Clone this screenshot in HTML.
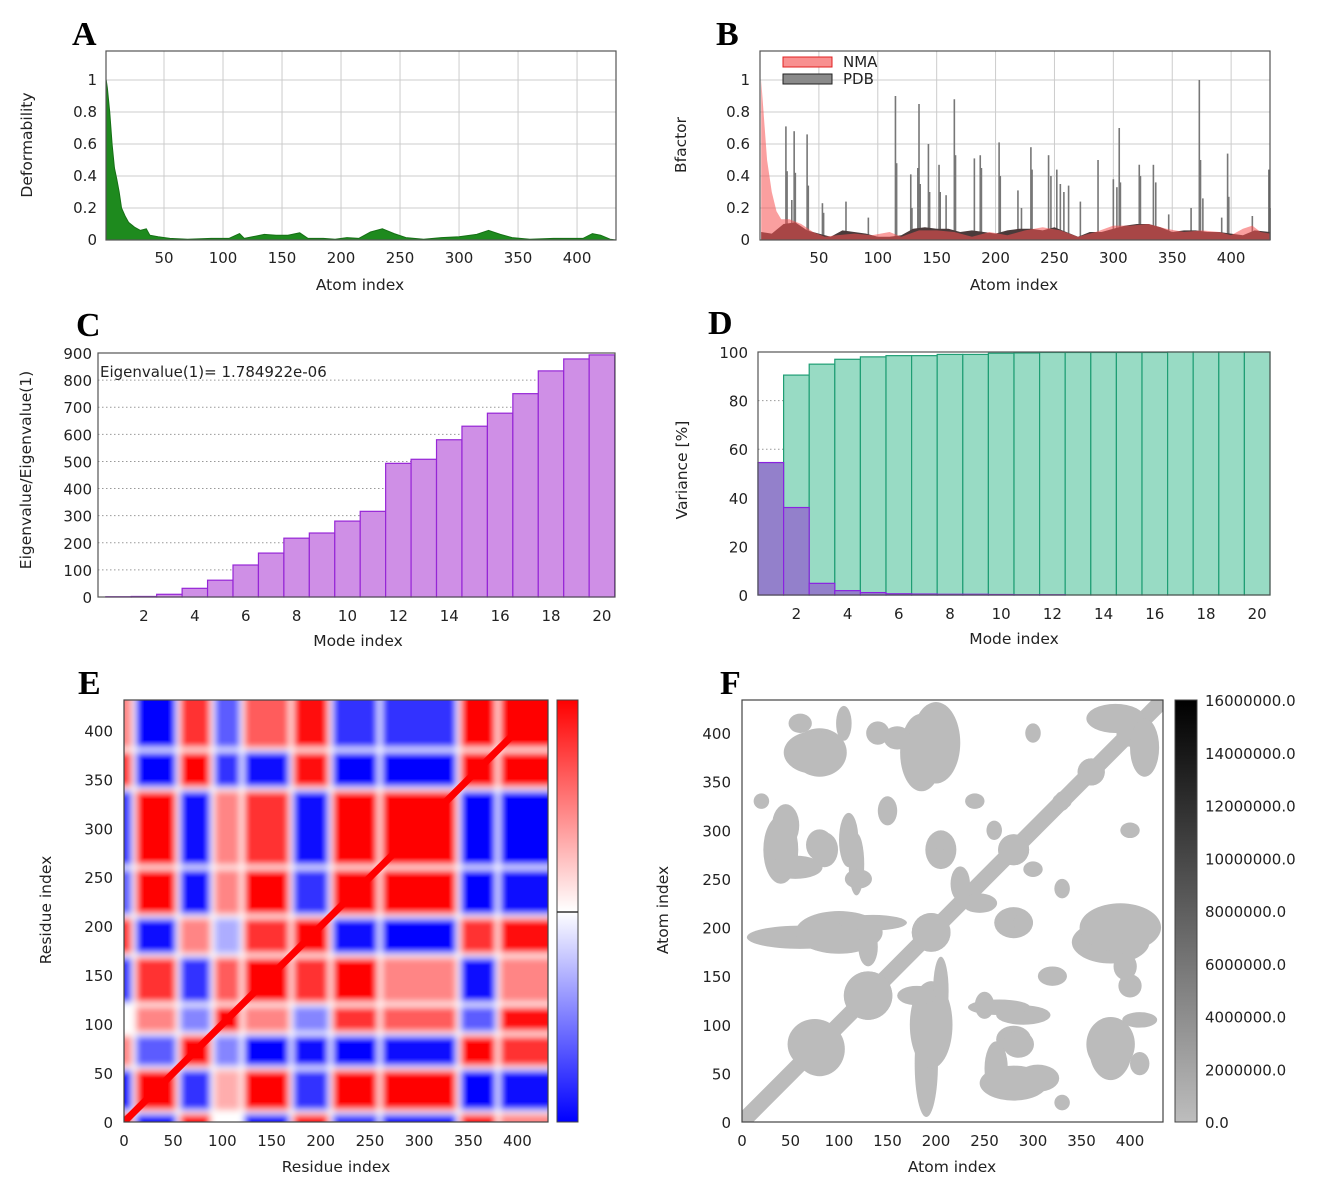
<!DOCTYPE html>
<html><head><meta charset="utf-8"><style>
body{margin:0;background:#fff}
svg{display:block}
text{font-family:"DejaVu Sans","Liberation Sans",sans-serif;fill:#222}
.lab{font-family:"Liberation Serif",serif;font-weight:bold;font-size:34px;fill:#000}
.tk{font-size:15px}
.ti{font-size:15.5px}
</style></head><body>
<svg id="fig" width="1325" height="1189" viewBox="0 0 1325 1189" xmlns="http://www.w3.org/2000/svg">
<defs>
<filter id="blurE" x="0" y="0" width="1" height="1"><feGaussianBlur stdDeviation="3.5"/></filter>
<clipPath id="clipE"><rect x="124" y="700" width="424" height="422"/></clipPath>
<clipPath id="clipF"><rect x="742" y="700" width="421" height="422"/></clipPath>
<linearGradient id="gE" x1="0" y1="1" x2="0" y2="0"><stop offset="0" stop-color="#0000ff"/><stop offset="0.5" stop-color="#ffffff"/><stop offset="1" stop-color="#ff0000"/></linearGradient>
<linearGradient id="gF" x1="0" y1="1" x2="0" y2="0"><stop offset="0" stop-color="#bdbdbd"/><stop offset="1" stop-color="#000"/></linearGradient>
</defs>
<text class="lab" x="72" y="45">A</text>
<text class="lab" x="716" y="45">B</text>
<text class="lab" x="76" y="336">C</text>
<text class="lab" x="708" y="334">D</text>
<text class="lab" x="78" y="694">E</text>
<text class="lab" x="720" y="694">F</text>
<g id="root"></g>
</svg>
<script>
// ---- Panel A data ----
const aX=[1,2,4,6,8,10,12,14,17,20,25,30,35,38,45,55,70,90,105,114,118,125,135,145,155,165,172,185,195,205,215,225,235,245,255,270,285,300,315,325,335,345,360,380,395,405,413,420,428,433];
const aY=[1.0,0.95,0.8,0.6,0.45,0.38,0.3,0.2,0.15,0.11,0.08,0.06,0.07,0.03,0.02,0.01,0.005,0.01,0.01,0.04,0.01,0.02,0.035,0.03,0.03,0.045,0.01,0.01,0.005,0.015,0.01,0.05,0.07,0.04,0.015,0.005,0.015,0.02,0.035,0.06,0.035,0.015,0.005,0.01,0.01,0.01,0.04,0.03,0.005,0];
const atomTicks=[50,100,150,200,250,300,350,400];
const unitTicks=[0,0.2,0.4,0.6,0.8,1];
// ---- Panel B data ----
const nmaX=[1,3,6,10,14,18,25,35,45,55,65,80,95,110,120,135,150,165,180,195,210,225,240,255,270,285,300,315,330,345,360,375,390,400,410,418,425,433];
const nmaY=[1.0,0.8,0.5,0.3,0.18,0.13,0.13,0.1,0.05,0.02,0.03,0.04,0.03,0.05,0.02,0.06,0.06,0.05,0.02,0.05,0.03,0.06,0.08,0.06,0.02,0.05,0.09,0.09,0.1,0.07,0.05,0.06,0.05,0.03,0.07,0.09,0.05,0.04];
const pdbBaseX=[1,10,20,30,40,50,60,70,80,90,100,110,120,130,140,150,160,170,180,190,200,210,220,230,240,250,260,270,280,290,300,310,320,330,340,350,360,370,380,390,400,410,420,433];
const pdbBaseY=[0.05,0.04,0.1,0.11,0.06,0.04,0.02,0.06,0.05,0.04,0.02,0.02,0.03,0.07,0.08,0.07,0.07,0.05,0.06,0.05,0.04,0.06,0.07,0.07,0.06,0.08,0.05,0.02,0.05,0.05,0.07,0.09,0.1,0.1,0.08,0.05,0.06,0.06,0.05,0.05,0.04,0.03,0.06,0.05];
const spikeX=[22,23,27,29,30,40,41,53,54,73,92,115,116,128,129,134,135,136,143,144,152,153,158,165,166,182,187,188,203,204,219,222,230,231,245,247,252,255,258,262,272,287,300,303,305,306,322,323,334,336,347,366,373,374,376,392,397,398,418,432,433];
const spikeY=[0.71,0.43,0.25,0.68,0.42,0.66,0.34,0.23,0.17,0.24,0.14,0.9,0.48,0.41,0.2,0.45,0.85,0.35,0.6,0.3,0.47,0.3,0.28,0.88,0.53,0.51,0.53,0.45,0.61,0.4,0.31,0.2,0.58,0.44,0.53,0.4,0.44,0.35,0.3,0.34,0.24,0.5,0.38,0.33,0.7,0.36,0.47,0.4,0.47,0.36,0.16,0.2,1.0,0.5,0.26,0.14,0.54,0.27,0.15,0.44,0.2];
// ---- Panel C data ----
const modes=[1,2,3,4,5,6,7,8,9,10,11,12,13,14,15,16,17,18,19,20];
const eigRatio=[1,2,10,32,62,118,162,217,236,280,316,493,508,580,630,678,750,834,878,893];
const eigTicks=[0,100,200,300,400,500,600,700,800,900];
const modeTicks=[2,4,6,8,10,12,14,16,18,20];
// ---- Panel D data ----
const varInd=[54.5,36,4.8,1.8,1.0,0.5,0.4,0.3,0.3,0.2,0.1,0.1,0,0,0,0,0,0,0,0];
const varCum=[54.5,90.5,95,97,98,98.5,98.5,99,99,99.5,99.6,99.8,99.8,99.8,99.8,99.8,100,100,100,100];
const varTicks=[0,20,40,60,80,100];
// ---- Panel E data (segment correlation matrix) ----
const segB=[0,10,55,90,120,170,210,260,340,380,431];
const corr=[
[1,-0.7,0.7,0,-0.7,0.6,-0.5,-0.6,0.6,0.3],
[-0.7,1,-0.5,0.2,0.8,-0.5,0.8,0.9,-0.7,-0.6],
[0.3,-0.4,1,-0.3,-0.7,-0.6,-0.7,-0.6,0.8,0.5],
[0,0.3,-0.3,1,0.3,-0.3,0.5,0.4,-0.4,0.6],
[-0.5,0.5,-0.5,0.4,1,0.5,0.7,0.3,-0.6,0.3],
[0.5,-0.6,0.3,-0.2,0.5,1,-0.6,-0.7,0.5,0.6],
[-0.4,0.8,-0.6,0.3,0.7,-0.5,1,0.8,-0.7,-0.6],
[-0.5,0.9,-0.6,0.3,0.5,-0.6,0.8,1,-0.7,-0.7],
[0.5,-0.7,0.7,-0.5,-0.6,0.6,-0.7,-0.7,1,0.7],
[0.3,-0.7,0.5,-0.4,0.4,0.6,-0.5,-0.5,0.7,1]];
const resTicks=[0,50,100,150,200,250,300,350,400];
// ---- Panel F data (contact blobs: cx, cy, rx, ry in atom units) ----
const blobCX=[75,130,195,280,360,400,385,60,195,40,80,185,105,290,280,305,262,380,390,205,205,80,118,290,225,400,150,330,160,300,130,330,410,20,260,250];
const blobCY=[80,130,195,280,360,400,415,190,100,280,380,380,410,110,85,45,55,75,200,280,135,285,265,205,245,140,320,330,395,400,180,240,60,330,300,120];
const blobRX=[28,25,20,16,14,14,30,55,22,18,28,22,8,28,18,22,12,22,42,16,8,14,8,10,10,12,10,8,14,8,10,8,10,8,8,10];
const blobRY=[26,25,20,16,14,14,15,12,45,35,25,40,18,10,14,14,28,32,25,20,35,16,32,10,18,12,15,10,12,10,20,10,12,8,10,14];
const fTicks=[0,50,100,150,200,250,300,350,400];
const cbVals=[0,2000000,4000000,6000000,8000000,10000000,12000000,14000000,16000000];

const NS="http://www.w3.org/2000/svg";
const root=document.getElementById('root');
function mk(tag,attrs,parent){const e=document.createElementNS(NS,tag);for(const k in attrs)e.setAttribute(k,attrs[k]);(parent||root).appendChild(e);return e;}
function txt(x,y,s,anchor,cls,parent){const t=mk('text',{x:x,y:y,'text-anchor':anchor||'middle',class:cls||'tk'},parent);t.textContent=s;return t;}
function lin(d0,d1,r0,r1){return v=>r0+(v-d0)*(r1-r0)/(d1-d0);}

// ===== Panel A =====
(function(){
 const sx=lin(0,433,105,616), sy=lin(0,1,240,80);
 const g=mk('g',{});
 
 
 atomTicks.forEach(v=>{const l=mk('line',{x1:sx(v),x2:sx(v),y1:51,y2:240,stroke:'#ccc'},g);
  const t=txt(sx(v),263,String(v),'middle','tk',g);});
 unitTicks.forEach(v=>{const l=mk('line',{x1:106,x2:616,y1:sy(v),y2:sy(v),stroke:'#ccc'},g);
  const t=txt(97,sy(v)+5,String(v),'end','tk',g);});
 let d='M'+sx(aX[0])+','+sy(0);
 aX.forEach((x,i)=>{d+=' L'+sx(x)+','+sy(aY[i]);});
 d+=' L'+sx(aX[aX.length-1])+','+sy(0)+'Z';
 const p=mk('path',{d:d,fill:'#1e8a1e',stroke:'#167016','stroke-width':1},g);
 
 const b=mk('rect',{x:106,y:51,width:510,height:189,fill:'none',stroke:'#555','stroke-width':1.2},g);
 
 const yt=txt(0,0,'Deformability','middle','ti',g);yt.setAttribute('transform','translate(32,145) rotate(-90)');
 
 const xt=txt(360,290,'Atom index','middle','ti',g);
})();

// ===== Panel B =====
(function(){
 const sx=lin(0,433,760,1270), sy=lin(0,1,240,80);
 const g=mk('g',{});
 
 
 atomTicks.forEach(v=>{const l=mk('line',{x1:sx(v),x2:sx(v),y1:51,y2:240,stroke:'#ccc'},g);
  const t=txt(sx(v),263,String(v),'middle','tk',g);});
 unitTicks.forEach(v=>{const l=mk('line',{x1:760,x2:1270,y1:sy(v),y2:sy(v),stroke:'#ccc'},g);
  const t=txt(750,sy(v)+5,String(v),'end','tk',g);});
 spikeX.forEach((x,i)=>{const l=mk('line',{x1:sx(x),x2:sx(x),y1:sy(0),y2:sy(spikeY[i]),stroke:'#777','stroke-width':1.6},g);
  });
 let d='M'+sx(pdbBaseX[0])+','+sy(0);
 pdbBaseX.forEach((x,i)=>{d+=' L'+sx(x)+','+sy(pdbBaseY[i]);});
 d+=' L'+sx(433)+','+sy(0)+'Z';
 const pb=mk('path',{d:d,fill:'#4a3a3a'},g);
 let d2='M'+sx(nmaX[0])+','+sy(0);
 nmaX.forEach((x,i)=>{d2+=' L'+sx(x)+','+sy(nmaY[i]);});
 d2+=' L'+sx(433)+','+sy(0)+'Z';
 const pn=mk('path',{d:d2,fill:'rgba(245,80,80,0.55)',stroke:'none'},g);
 const b=mk('rect',{x:760,y:51,width:510,height:189,fill:'none',stroke:'#555','stroke-width':1.2},g);
 
 const l1=mk('rect',{x:783,y:57,width:49,height:10,fill:'#f89090',stroke:'#e02020'},g);
 const t1=txt(843,67,'NMA','start','tk',g);
 const l2=mk('rect',{x:783,y:74,width:49,height:10,fill:'#8a8a8a',stroke:'#222'},g);
 const t2=txt(843,84,'PDB','start','tk',g);
 const yt=txt(0,0,'Bfactor','middle','ti',g);yt.setAttribute('transform','translate(686,145) rotate(-90)');
 
 const xt=txt(1014,290,'Atom index','middle','ti',g);
})();

// ===== Panel C =====
(function(){
 const sx=lin(0.5,20.5,105.8,614.6), sy=lin(0,900,597,353);
 const g=mk('g',{});
 
 
 eigTicks.forEach(v=>{const l=mk('line',{x1:98,x2:615,y1:sy(v),y2:sy(v),stroke:'#999','stroke-dasharray':'1.5,2.5'},g);
  const t=txt(92,sy(v)+6,String(v),'end','tk',g);});
 modeTicks.forEach(v=>{const t=txt(sx(v),621,String(v),'middle','tk',g);});
 modes.forEach((m,i)=>{const y=sy(eigRatio[i]);const r=mk('rect',{x:sx(m-0.5),y:y,width:sx(m+0.5)-sx(m-0.5),height:sy(0)-y,fill:'#cf8fe6',stroke:'#9626d6','stroke-width':1.2},g);
  });
 const b=mk('rect',{x:98,y:353,width:517,height:244,fill:'none',stroke:'#555','stroke-width':1.2},g);
 
 const an=txt(100,377,'Eigenvalue(1)= 1.784922e-06','start','tk',g);
 const yt=txt(0,0,'Eigenvalue/Eigenvalue(1)','middle','ti',g);yt.setAttribute('transform','translate(31,470) rotate(-90)');
 
 const xt=txt(358,646,'Mode index','middle','ti',g);
})();

// ===== Panel D =====
(function(){
 const sx=lin(0.5,20.5,758,1270), sy=lin(0,100,595,352);
 const g=mk('g',{});
 
 
 varTicks.forEach(v=>{const l=mk('line',{x1:758,x2:1270,y1:sy(v),y2:sy(v),stroke:'#999','stroke-dasharray':'1.5,2.5'},g);
  const t=txt(748,sy(v)+6,String(v),'end','tk',g);});
 modeTicks.forEach(v=>{const t=txt(sx(v),619,String(v),'middle','tk',g);});
 modes.forEach((m,i)=>{const y=sy(varCum[i]);const r=mk('rect',{x:sx(m-0.5),y:y,width:sx(m+0.5)-sx(m-0.5),height:sy(0)-y,fill:'#98dbc4',stroke:'#1f9e74','stroke-width':1.2},g);
  });
 modes.forEach((m,i)=>{if(varInd[i]<=0)return;const y=sy(varInd[i]);const r=mk('rect',{x:sx(m-0.5),y:y,width:sx(m+0.5)-sx(m-0.5),height:sy(0)-y,fill:'#9380cb',stroke:'#8a22e0','stroke-width':1.2},g);
  });
 const b=mk('rect',{x:758,y:352,width:512,height:243,fill:'none',stroke:'#555','stroke-width':1.2},g);
 
 const yt=txt(0,0,'Variance [%]','middle','ti',g);yt.setAttribute('transform','translate(687,470) rotate(-90)');
 
 const xt=txt(1014,644,'Mode index','middle','ti',g);
})();

// ===== Panel E =====
(function(){
 const sx=lin(0,431,124,548), sy=lin(0,431,1122,700);
 const g=mk('g',{});
 
 
 mk('rect',{x:124,y:700,width:424,height:422,fill:'#fff'},g);
 const hg=mk('g',{'clip-path':'url(#clipE)'},g);
 const inner=mk('g',{filter:'url(#blurE)'},hg);
 function col(v){v=Math.max(-1,Math.min(1,v*1.6));if(v>=0){const c=Math.round(255*(1-v));return 'rgb(255,'+c+','+c+')';}const c=Math.round(255*(1+v));return 'rgb('+c+','+c+',255)';}
 mk('rect',{x:100,y:680,width:470,height:470,fill:'#fff'},inner);
 for(let r=0;r<corr.length;r++)for(let c=0;c<corr.length;c++){
  const x0=sx(segB[c]),x1=sx(segB[c+1]),y0=sy(segB[r+1]),y1=sy(segB[r]);
  const cell=mk('rect',{x:x0-(c==0?30:0)+2,y:y0-(r==corr.length-1?30:0)+2,width:x1-x0+(c==0||c==corr.length-1?30:0)-4,height:y1-y0+(r==0||r==corr.length-1?30:0)-4,fill:col(corr[r][c])},inner);
  
 }
 const dg=mk('line',{x1:sx(0),y1:sy(0),x2:sx(431),y2:sy(431),stroke:'#ff0000','stroke-width':7},hg);
 
 const b=mk('rect',{x:124,y:700,width:424,height:422,fill:'none',stroke:'#444','stroke-width':1.2},g);
 
 resTicks.forEach(v=>{const t=txt(sx(v),1146,String(v),'middle','tk',g);
  const t2=txt(113,sy(v)+6,String(v),'end','tk',g);});
 const cb=mk('rect',{x:557,y:700,width:21,height:422,fill:'url(#gE)',stroke:'#444'},g);
 
 mk('line',{x1:557,x2:578,y1:912,y2:912,stroke:'#333','stroke-width':1.5},g);
 const yt=txt(0,0,'Residue index','middle','ti',g);yt.setAttribute('transform','translate(51,910) rotate(-90)');
 
 const xt=txt(336,1172,'Residue index','middle','ti',g);
})();

// ===== Panel F =====
(function(){
 const sx=lin(0,434,742,1163), sy=lin(0,434,1122,700);
 const k=(1163-742)/434;
 const g=mk('g',{});
 
 
 mk('rect',{x:742,y:700,width:421,height:422,fill:'#fff'},g);
 const hg=mk('g',{'clip-path':'url(#clipF)'},g);
 const dg=mk('line',{x1:sx(0),y1:sy(0),x2:sx(434),y2:sy(434),stroke:'#bbb','stroke-width':16},hg);
 
 blobCX.forEach((cx,i)=>{
  const e=mk('ellipse',{cx:sx(cx),cy:sy(blobCY[i]),rx:blobRX[i]*k,ry:blobRY[i]*k,fill:'#bbb'},hg);
  
  const e2=mk('ellipse',{cx:sx(blobCY[i]),cy:sy(cx),rx:blobRY[i]*k,ry:blobRX[i]*k,fill:'#bbb'},hg);
  
 });
 const b=mk('rect',{x:742,y:700,width:421,height:422,fill:'none',stroke:'#444','stroke-width':1.2},g);
 
 fTicks.forEach(v=>{const t=txt(sx(v),1146,String(v),'middle','tk',g);
  const t2=txt(731,sy(v)+6,String(v),'end','tk',g);});
 const cb=mk('rect',{x:1175,y:700,width:22,height:422,fill:'url(#gF)',stroke:'#444'},g);
 
 const cy=lin(0,16000000,1122,700);
 cbVals.forEach(v=>{const t=txt(1205,cy(v)+6,v.toFixed(1),'start','tk',g);});
 const yt=txt(0,0,'Atom index','middle','ti',g);yt.setAttribute('transform','translate(668,910) rotate(-90)');
 
 const xt=txt(952,1172,'Atom index','middle','ti',g);
})();
</script>
</body></html>
